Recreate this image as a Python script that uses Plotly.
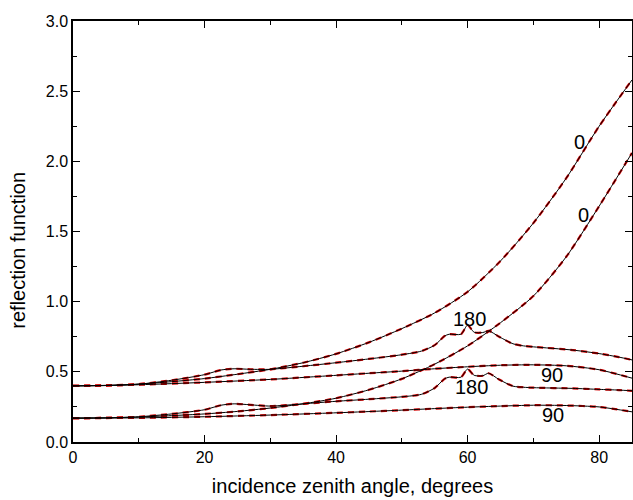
import plotly.graph_objects as go

# ---- data ----
x_up0 = [0, 5, 10, 15, 20, 25, 30, 35, 40, 45, 50, 55, 60, 65, 70, 75, 80, 85]
y_up0 = [0.400, 0.403, 0.413, 0.430, 0.452, 0.483, 0.518, 0.565, 0.628, 0.710,
         0.808, 0.920, 1.070, 1.290, 1.560, 1.880, 2.250, 2.580]

x_lo0 = [0, 5, 10, 15, 20, 25, 30, 35, 40, 45, 50, 55, 60, 65, 70, 75, 80, 85]
y_lo0 = [0.170, 0.172, 0.178, 0.188, 0.200, 0.218, 0.242, 0.272, 0.312, 0.372,
         0.450, 0.555, 0.685, 0.850, 1.040, 1.320, 1.680, 2.060]

x_180 = [0, 5, 10, 15, 20, 22.5, 24.5, 27, 30, 35, 40, 45, 50, 53, 55, 56.5,
         57.2, 59, 60, 61, 62.3, 63.2, 64.8, 66.9, 68.5, 70, 76, 80, 83, 85]
y_up180 = [0.400, 0.402, 0.412, 0.440, 0.480, 0.513, 0.522, 0.518, 0.518, 0.540,
           0.565, 0.592, 0.622, 0.648, 0.690, 0.755, 0.768, 0.768, 0.833, 0.782,
           0.780, 0.792, 0.750, 0.700, 0.685, 0.678, 0.655, 0.630, 0.605, 0.585]
y_lo180 = [0.170, 0.172, 0.180, 0.200, 0.230, 0.262, 0.272, 0.265, 0.256, 0.272,
           0.290, 0.305, 0.322, 0.340, 0.385, 0.450, 0.462, 0.462, 0.520, 0.475,
           0.472, 0.490, 0.445, 0.398, 0.390, 0.387, 0.382, 0.375, 0.370, 0.365]

x_90 = [0, 10, 20, 30, 40, 45, 50, 55, 60, 65, 70, 75, 80, 85]
y_up90 = [0.400, 0.408, 0.425, 0.446, 0.475, 0.490, 0.505, 0.522, 0.536, 0.547,
          0.550, 0.543, 0.515, 0.455]
y_lo90 = [0.170, 0.172, 0.180, 0.192, 0.208, 0.217, 0.227, 0.238, 0.248, 0.256,
          0.262, 0.260, 0.250, 0.215]

series = [
    (x_up0, y_up0), (x_lo0, y_lo0),
    (x_180, y_up180), (x_180, y_lo180),
    (x_90, y_up90), (x_90, y_lo90),
]

label_text = ["0", "0", "180", "180", "90", "90"]
label_x = [77.0, 77.6, 60.3, 60.6, 72.8, 73.0]
label_y = [2.14, 1.62, 0.88, 0.39, 0.475, 0.19]

FONT = "Liberation Sans, Arial, sans-serif"

fig = go.Figure()
for xs, ys in series:
    fig.add_trace(go.Scatter(x=xs, y=ys, mode="lines",
                             line=dict(color="#d40000", width=2.2, dash="6px,5px",
                                       shape="spline", smoothing=0.7),
                             hoverinfo="skip", showlegend=False))
for xs, ys in series:
    fig.add_trace(go.Scatter(x=xs, y=ys, mode="lines",
                             line=dict(color="black", width=1,
                                       shape="spline", smoothing=0.7),
                             showlegend=False))

for t, lx, ly in zip(label_text, label_x, label_y):
    fig.add_annotation(x=lx, y=ly, text=t, showarrow=False,
                       font=dict(family=FONT, size=20, color="black"))

# y-axis title placed as a rotated annotation (the reference sits slightly below centre)
fig.add_annotation(xref="paper", yref="paper", x=-0.098, y=0.455,
                   xanchor="center", yanchor="middle", textangle=-90,
                   text="reflection function", showarrow=False,
                   font=dict(family=FONT, size=20, color="black"))

axis_common = dict(showgrid=False, zeroline=False, showline=True, linecolor="black",
                   linewidth=1.5, mirror="ticks", ticks="inside", ticklen=7,
                   tickwidth=1.2, tickcolor="black", automargin=False,
                   tickfont=dict(family=FONT, size=16, color="black"))

fig.update_xaxes(range=[0, 85], tickvals=[0, 20, 40, 60, 80],
                 minor=dict(tickvals=[10, 30, 50, 70], ticks="inside", ticklen=4,
                            tickcolor="black", tickwidth=1.2),
                 title=dict(text="incidence zenith angle, degrees",
                            font=dict(family=FONT, size=20, color="black"), standoff=14),
                 **axis_common)
fig.update_yaxes(range=[0, 3], tickvals=[0, 0.5, 1.0, 1.5, 2.0, 2.5, 3.0],
                 tickformat=".1f",
                 minor=dict(tickvals=[0.25, 0.75, 1.25, 1.75, 2.25, 2.75], ticks="inside",
                            ticklen=4, tickcolor="black", tickwidth=1.2),
                 **axis_common)

fig.update_layout(width=633, height=500, margin=dict(l=73, r=1, t=21, b=58),
                  plot_bgcolor="white", paper_bgcolor="white")

fig.write_html("out.html", config={"displayModeBar": False},
               post_script="document.body.style.margin='0';"
                           "document.body.style.overflow='hidden';")
